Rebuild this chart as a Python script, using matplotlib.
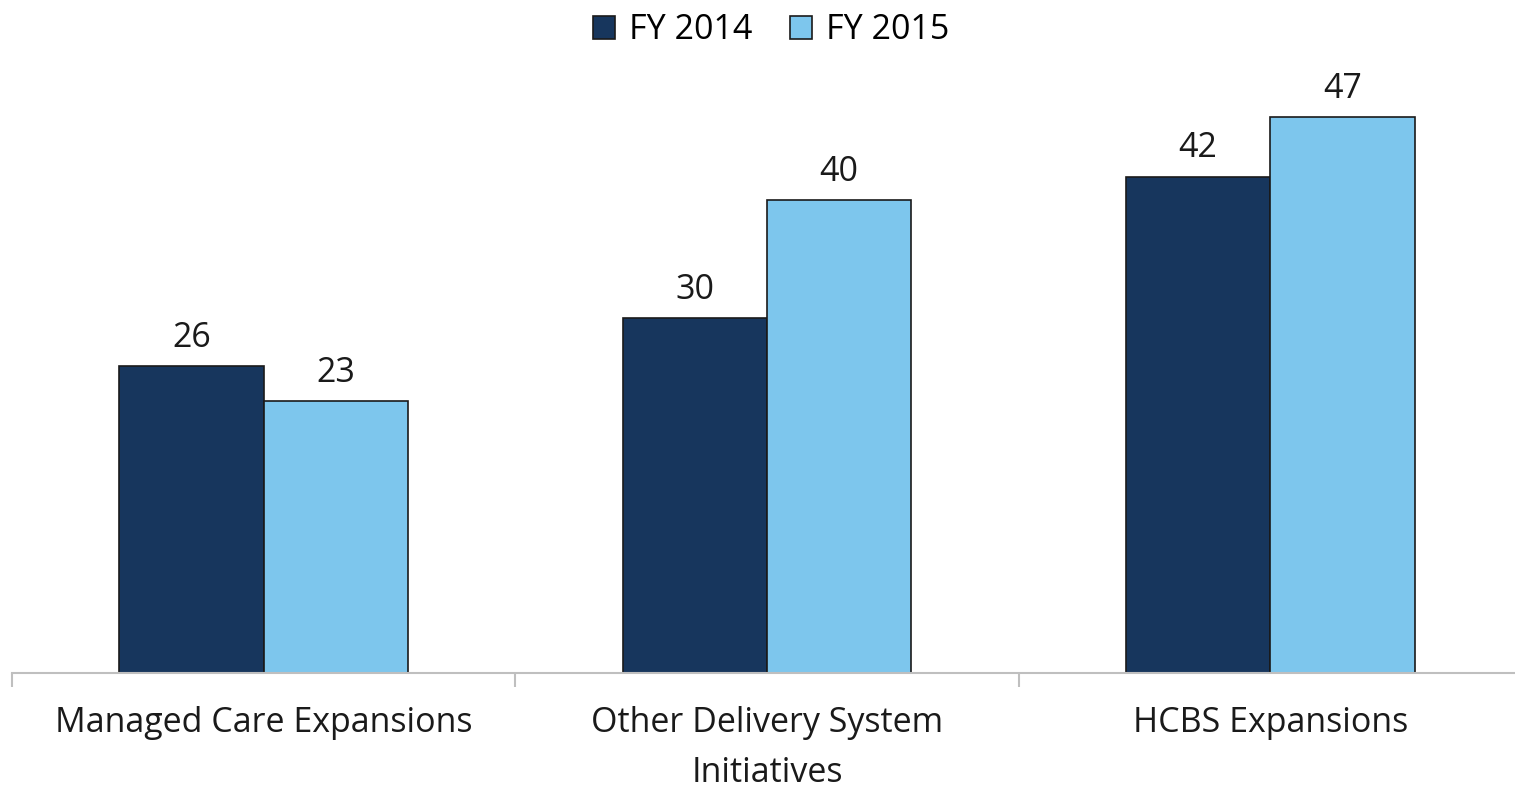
import numpy as np
import matplotlib.pyplot as plt

categories = ['Managed Care Expansions', 'Other Delivery System\nInitiatives', 'HCBS Expansions']
series = ['FY 2014', 'FY 2015']
fy2014 = [26, 30, 42]
fy2015 = [23, 40, 47]

colors = ['#17365D', '#7DC6ED']

plt.rcParams['font.family'] = ['Open Sans', 'DejaVu Sans']

fig = plt.figure(figsize=(15.15, 7.88), dpi=100)
ax = fig.add_axes([12 / 1515, 115 / 788, 1510 / 1515, 591 / 788])

x = np.arange(len(categories))
w = 0.287
for i, (name, vals) in enumerate(zip(series, [fy2014, fy2015])):
    offs = (i - 0.5) * w
    bars = ax.bar(x + offs, vals, w, color=colors[i], edgecolor='#1a1a1a', linewidth=1.2, label=name)
    for b, v in zip(bars, vals):
        ax.annotate(str(v), (b.get_x() + b.get_width() / 2, v), xytext=(0, 8),
                    textcoords='offset points', ha='center', va='bottom', fontsize=24.5, color='#1a1a1a')

ax.set_xlim(-0.5, 2.5)
ax.set_ylim(0, 50)
ax.set_yticks([])
for s in ['top', 'right', 'left']:
    ax.spines[s].set_visible(False)
ax.spines['bottom'].set_color('#BFBFBF')
ax.spines['bottom'].set_linewidth(1.5)

ax.set_xticks(x)
ax.set_xticklabels(categories, fontsize=24.5, color='#1a1a1a', linespacing=1.6)
ax.tick_params(axis='x', length=0, pad=24)
ax.set_xticks([-0.5, 0.5, 1.5, 2.5], minor=True)
ax.tick_params(axis='x', which='minor', length=10, width=1.5, color='#BFBFBF')

fig.legend(loc='upper center', bbox_to_anchor=(0.509, 1.022), ncol=2, frameon=False, fontsize=24.5,
           handlelength=0.65, handleheight=0.65, handletextpad=0.4, columnspacing=1.1)

fig.savefig('out.png', dpi=100)
